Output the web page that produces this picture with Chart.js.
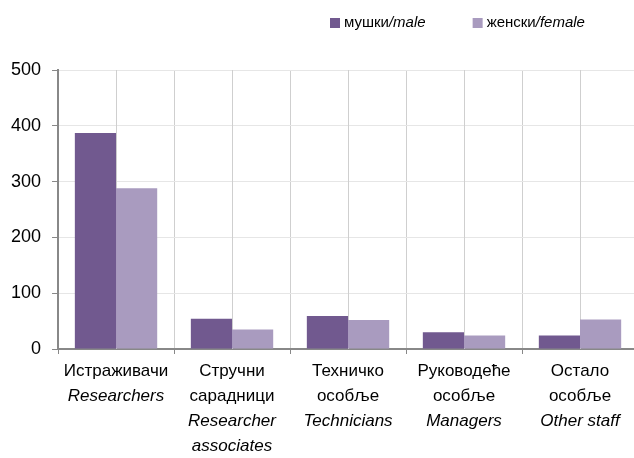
<!DOCTYPE html>
<html>
<head>
<meta charset="utf-8">
<script src="https://cdn.jsdelivr.net/npm/chart.js@4.4.1/dist/chart.umd.min.js"></script>
<style>
  html, body { margin: 0; padding: 0; background: #fff; overflow: hidden; }
  #wrap { position: relative; width: 640px; height: 458px; }
</style>
</head>
<body>
<div id="wrap"><canvas id="my-chart"></canvas></div>
<script>
// категорије (ћирилица + енглески у курзиву)
const categories = [
    ['Истраживачи'],
    ['Стручни', 'сарадници'],
    ['Техничко', 'особље'],
    ['Руководеће', 'особље'],
    ['Остало', 'особље']
];
const categoriesEn = [
    ['Researchers'],
    ['Researcher', 'associates'],
    ['Technicians'],
    ['Managers'],
    ['Other staff']
];

const maleValues = [387, 54, 59, 30, 24];
const femaleValues = [288, 35, 52, 24, 53];

const seriesNames = ['мушки', 'женски'];
const seriesNamesEn = ['male', 'female'];

const yTicks = [0, 100, 200, 300, 400, 500];

const maleColor = '#71598f';
const femaleColor = '#a99bbf';

const fontFamily = "'Liberation Sans', Arial, sans-serif";
const lineH = 25;
const tickLen = 5;
const tickPad = 5;

/* линије по средини категорија */
const centerLines = {
    id: 'centerLines',
    beforeDatasetsDraw(chart) {
        const x = chart.scales.x;
        const area = chart.chartArea;
        const ctx = chart.ctx;
        ctx.save();
        ctx.strokeStyle = '#cfcfcf';
        ctx.lineWidth = 1;
        x.ticks.forEach((t, i) => {
            const px = Math.round(x.getPixelForTick(i)) + 0.5;
            ctx.beginPath();
            ctx.moveTo(px, area.top);
            ctx.lineTo(px, area.bottom);
            ctx.stroke();
        });
        ctx.restore();
    }
};

/* енглески називи у курзиву испод ћириличних */
const englishLabels = {
    id: 'englishLabels',
    afterDraw(chart) {
        const x = chart.scales.x;
        const ctx = chart.ctx;
        ctx.save();
        ctx.font = 'italic 17px ' + fontFamily;
        ctx.fillStyle = '#000';
        ctx.textAlign = 'center';
        ctx.textBaseline = 'middle';
        categoriesEn.forEach((lines, i) => {
            const px = x.getPixelForTick(i);
            const start = categories[i].length;
            lines.forEach((line, j) => {
                const py = x.top + tickLen + tickPad + lineH / 2 + (start + j) * lineH;
                ctx.fillText(line, px, py);
            });
        });
        ctx.restore();
    }
};

/* легенда: ћирилица + /енглески у курзиву */
const mixedLegend = {
    id: 'mixedLegend',
    afterDraw(chart) {
        const ctx = chart.ctx;
        ctx.save();
        ctx.textBaseline = 'middle';
        let px = 330;
        const py = 23;
        chart.data.datasets.forEach((ds, i) => {
            ctx.fillStyle = ds.backgroundColor;
            ctx.fillRect(px, py - 5, 10, 10);
            px += 14;
            ctx.fillStyle = '#000';
            ctx.font = '15px ' + fontFamily;
            ctx.fillText(seriesNames[i], px, py);
            px += ctx.measureText(seriesNames[i]).width;
            ctx.font = 'italic 15px ' + fontFamily;
            ctx.fillText('/' + seriesNamesEn[i], px, py);
            px += ctx.measureText('/' + seriesNamesEn[i]).width + 47;
        });
        ctx.restore();
    }
};

const data = {
    labels: categories,
    datasets: [{
        label: seriesNames[0] + '/' + seriesNamesEn[0],
        data: maleValues,
        backgroundColor: maleColor,
        categoryPercentage: 0.71,
        barPercentage: 1
    }, {
        label: seriesNames[1] + '/' + seriesNamesEn[1],
        data: femaleValues,
        backgroundColor: femaleColor,
        categoryPercentage: 0.71,
        barPercentage: 1
    }]
};

const config = {
    type: 'bar',
    data: data,
    options: {
        responsive: true,
        maintainAspectRatio: false,
        animation: false,
        layout: {
            padding: { top: 70, left: 0, right: 2, bottom: -6 }
        },
        plugins: {
            legend: { display: false },
            tooltip: { enabled: false }
        },
        scales: {
            x: {
                grid: {
                    offset: true,
                    color: '#cfcfcf',
                    tickColor: '#888',
                    tickLength: tickLen
                },
                border: { color: '#888', width: 2 },
                ticks: {
                    color: '#000',
                    padding: tickPad,
                    maxRotation: 0,
                    font: { family: fontFamily, size: 17, lineHeight: lineH / 17 },
                    callback: function (v, i) {
                        // празни редови да остане места за енглески текст
                        const lines = categories[i].slice();
                        while (lines.length < 4) lines.push('');
                        return lines;
                    }
                }
            },
            y: {
                min: yTicks[0],
                max: yTicks[yTicks.length - 1],
                afterBuildTicks: function (axis) {
                    axis.ticks = yTicks.map(v => ({ value: v }));
                },
                grid: {
                    color: '#e6e6e6',
                    tickColor: '#888',
                    tickLength: 6
                },
                border: { color: '#888', width: 2 },
                ticks: {
                    color: '#000',
                    padding: 11,
                    font: { family: fontFamily, size: 18 }
                }
            }
        }
    },
    plugins: [centerLines, englishLabels, mixedLegend]
};

const ctx = document.getElementById('my-chart');
const myChart = new Chart(ctx, config);
</script>
</body>
</html>
